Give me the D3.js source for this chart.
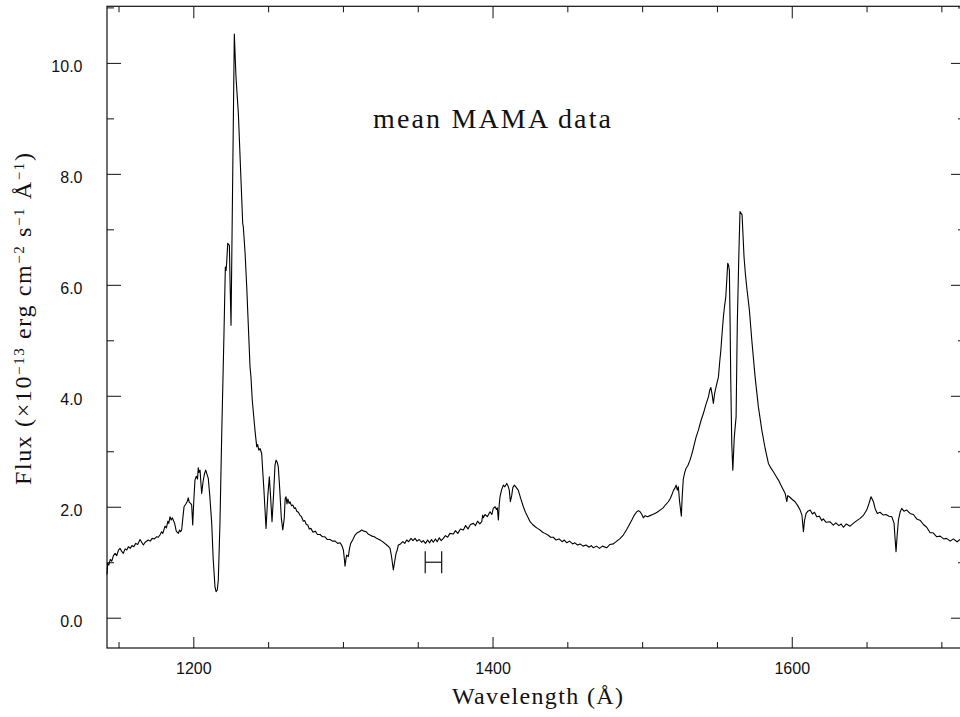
<!DOCTYPE html>
<html>
<head>
<meta charset="utf-8">
<script src="https://cdn.jsdelivr.net/npm/d3@7"></script>
<style>
  html, body { margin: 0; padding: 0; background: #fff; }
  svg { display: block; overflow: hidden; }
</style>
</head>
<body>
<svg id="chart" width="960" height="717"></svg>
<script>
// ---- data ----
const wavelength = [
1142.3,1142.8,1143.5,1144.5,1145.5,1146.6,1147.7,1148.8,1150.0,1151.0,1152.0,1153.2,1154.4,1155.5,1156.6,1157.8,1159.0,1160.2,1161.5,1162.8,
1164.4,1165.5,1166.6,1167.8,1169.9,1171.2,1172.5,1174.0,1175.5,1176.6,1177.7,1178.8,1179.6,1181.1,1182.0,1183.0,1183.6,1184.4,1185.2,1186.0,
1186.6,1187.5,1188.6,1190.0,1190.8,1191.5,1192.2,1193.0,1193.8,1195.0,1196.0,1196.6,1197.3,1198.2,1198.9,1199.6,1200.3,1201.1,1202.0,1202.8,
1203.3,1203.8,1204.5,1205.0,1205.6,1206.5,1207.5,1208.3,1209.2,1210.0,1211.0,1212.3,1213.3,1214.5,1215.2,1216.0,1216.7,1217.8,1219.0,1220.5,
1221.4,1221.9,1222.3,1223.0,1224.1,1224.6,1225.2,1227.4,1228.5,1230.1,1232.4,1233.0,1233.4,1234.6,1235.7,1236.8,1237.9,1238.5,1239.4,1240.6,
1241.5,1242.4,1243.0,1243.8,1244.6,1245.7,1246.5,1247.2,1248.6,1249.8,1250.8,1251.6,1252.6,1253.6,1254.6,1255.3,1256.1,1256.8,1257.8,1258.8,
1259.8,1260.8,1261.4,1262.0,1262.6,1263.2,1264.0,1264.6,1265.6,1266.5,1267.5,1268.3,1269.1,1270.2,1271.2,1272.3,1273.5,1274.5,1275.5,1276.5,
1277.5,1278.6,1280.0,1281.5,1283.0,1284.7,1286.2,1287.8,1289.5,1291.4,1293.0,1294.8,1296.5,1298.1,1299.3,1300.3,1301.0,1301.4,1302.0,1302.5,
1303.6,1304.4,1305.2,1306.5,1308.1,1309.5,1311.0,1312.6,1314.0,1315.5,1316.8,1318.1,1319.5,1321.0,1322.5,1324.8,1326.0,1327.5,1329.3,1330.5,
1331.5,1332.5,1333.7,1334.5,1335.5,1336.3,1337.0,1338.5,1340.0,1341.3,1342.6,1344.0,1345.5,1346.8,1348.2,1349.5,1351.0,1352.5,1353.7,1355.2,
1356.6,1358.0,1359.2,1360.4,1361.8,1363.0,1364.4,1365.7,1367.1,1368.5,1370.0,1371.5,1373.8,1375.2,1376.8,1378.5,1380.5,1382.0,1383.6,1385.2,
1387.2,1388.6,1390.0,1391.5,1392.8,1393.4,1393.9,1395.0,1396.5,1398.3,1399.5,1400.5,1401.7,1402.6,1403.2,1403.9,1404.5,1405.0,1406.0,1407.2,
1408.2,1409.5,1410.3,1411.2,1411.9,1412.8,1413.6,1414.6,1415.8,1417.2,1418.8,1420.6,1422.0,1423.5,1425.1,1426.8,1428.5,1430.0,1431.8,1433.5,
1435.0,1437.0,1438.8,1440.6,1442.5,1444.5,1446.5,1448.0,1449.6,1451.5,1453.5,1455.0,1456.8,1458.5,1460.5,1462.5,1464.5,1466.0,1467.4,1469.5,
1471.5,1473.5,1476.3,1478.5,1480.8,1483.0,1485.0,1487.4,1489.5,1491.5,1493.1,1494.8,1496.4,1497.5,1498.6,1499.8,1500.8,1502.0,1503.5,1505.3,
1507.0,1508.5,1510.0,1512.0,1514.0,1515.8,1517.5,1518.8,1519.8,1521.0,1522.0,1522.7,1523.5,1524.2,1525.0,1526.2,1526.8,1527.5,1528.5,1529.3,
1530.5,1532.0,1533.2,1534.2,1536.0,1537.6,1539.3,1540.9,1542.6,1544.3,1545.2,1545.9,1546.8,1547.6,1548.5,1549.4,1550.2,1551.0,1551.8,1552.6,
1553.5,1554.3,1555.1,1555.9,1556.6,1557.2,1557.8,1558.3,1558.8,1559.2,1559.9,1560.6,1561.6,1562.8,1563.6,1564.6,1565.4,1566.8,1568.1,1569.0,
1569.9,1571.7,1573.3,1575.5,1577.7,1580.0,1582.2,1584.4,1586.0,1587.7,1589.5,1591.1,1593.3,1595.6,1596.7,1597.3,1598.4,1600.0,1602.2,1604.0,
1605.6,1606.8,1607.8,1608.5,1609.6,1610.8,1612.3,1613.8,1615.2,1616.7,1618.5,1620.0,1621.1,1623.0,1625.5,1627.8,1629.5,1631.5,1633.0,1634.5,
1636.5,1639.0,1641.5,1643.5,1645.7,1648.0,1650.1,1651.5,1653.0,1654.6,1655.8,1657.2,1659.0,1661.2,1663.0,1665.0,1666.9,1668.4,1669.0,1669.7,
1670.5,1671.3,1672.4,1673.5,1675.0,1676.9,1679.0,1681.3,1683.5,1686.0,1688.0,1690.2,1692.5,1694.5,1696.8,1699.2,1701.5,1703.5,1705.9,1708.0,
1710.5,1712.6,1715.8
];
const flux = [
0.78,0.98,0.95,1.05,1.02,1.12,1.16,1.12,1.22,1.25,1.20,1.16,1.24,1.22,1.28,1.25,1.30,1.28,1.34,1.32,
1.41,1.36,1.31,1.36,1.40,1.38,1.43,1.42,1.46,1.45,1.49,1.55,1.52,1.65,1.62,1.74,1.70,1.82,1.76,1.80,
1.76,1.70,1.56,1.52,1.58,1.55,1.58,1.80,2.00,2.05,2.10,2.16,2.08,2.06,2.03,1.67,2.10,2.48,2.55,2.50,
2.70,2.62,2.66,2.45,2.24,2.45,2.60,2.66,2.58,2.51,2.20,1.70,1.05,0.55,0.47,0.50,0.68,1.70,3.33,5.13,
6.32,6.26,6.40,6.75,6.71,6.00,5.27,10.52,9.75,9.09,7.52,7.11,7.05,6.57,5.96,5.24,4.52,4.35,3.92,3.56,
3.30,3.08,3.12,3.02,3.05,2.96,2.60,2.30,1.61,2.20,2.54,2.20,1.73,2.20,2.75,2.84,2.80,2.72,2.30,1.80,
1.58,1.80,2.15,2.18,2.05,2.14,2.06,2.09,2.02,2.03,1.97,1.98,1.92,1.90,1.85,1.82,1.74,1.75,1.68,1.67,
1.60,1.61,1.54,1.56,1.50,1.50,1.46,1.46,1.41,1.41,1.38,1.38,1.34,1.35,1.30,1.22,1.05,0.93,1.05,1.13,
1.10,1.25,1.34,1.40,1.49,1.53,1.55,1.58,1.56,1.55,1.51,1.49,1.47,1.46,1.43,1.40,1.38,1.35,1.31,1.28,
1.25,1.10,0.86,1.00,1.16,1.22,1.31,1.33,1.37,1.34,1.40,1.37,1.43,1.39,1.43,1.38,1.41,1.36,1.39,1.34,
1.40,1.35,1.41,1.36,1.42,1.37,1.44,1.39,1.43,1.48,1.45,1.52,1.51,1.57,1.52,1.60,1.58,1.66,1.60,1.68,
1.70,1.66,1.74,1.69,1.73,1.85,1.80,1.86,1.82,1.91,1.86,1.97,2.00,1.95,1.98,1.76,2.05,2.18,2.30,2.39,
2.36,2.42,2.38,2.30,2.09,2.20,2.35,2.39,2.35,2.30,2.15,2.00,1.90,1.82,1.73,1.68,1.64,1.61,1.58,1.54,
1.52,1.49,1.45,1.45,1.40,1.42,1.37,1.40,1.35,1.38,1.33,1.35,1.31,1.33,1.29,1.31,1.27,1.30,1.26,1.29,
1.25,1.29,1.26,1.32,1.33,1.38,1.42,1.49,1.58,1.68,1.76,1.85,1.91,1.93,1.91,1.86,1.80,1.84,1.82,1.84,
1.86,1.88,1.90,1.94,1.98,2.04,2.09,2.15,2.21,2.30,2.34,2.39,2.30,2.36,2.10,1.83,2.20,2.50,2.62,2.69,
2.74,2.84,2.95,3.05,3.25,3.38,3.55,3.68,3.84,3.98,4.10,4.15,4.02,3.86,4.05,4.16,4.25,4.34,4.60,4.82,
5.15,5.42,5.62,5.78,6.10,6.39,6.35,6.26,5.30,4.34,3.14,2.66,3.26,3.62,5.30,6.50,7.32,7.26,6.50,6.20,
5.96,5.54,5.00,4.34,3.80,3.38,3.05,2.78,2.70,2.63,2.55,2.48,2.36,2.24,2.09,2.20,2.18,2.14,2.09,2.02,
1.94,1.85,1.55,1.75,1.88,1.92,1.94,1.87,1.90,1.82,1.83,1.75,1.78,1.72,1.73,1.67,1.71,1.66,1.69,1.63,
1.69,1.65,1.71,1.75,1.79,1.85,1.94,2.05,2.18,2.09,1.96,1.88,1.90,1.85,1.86,1.83,1.82,1.70,1.45,1.19,
1.50,1.76,1.90,1.97,1.92,1.94,1.88,1.86,1.78,1.75,1.68,1.63,1.53,1.53,1.46,1.47,1.42,1.43,1.38,1.42,
1.37,1.41,1.39
];
const xMajorTicks = [1200, 1400, 1600];
const xMinorTicks = [1150, 1250, 1300, 1350, 1450, 1500, 1550, 1650, 1700];
const yMajorTicks = [0, 2, 4, 6, 8, 10];
const yMinorTicks = [1, 3, 5, 7, 9, 11];
const markerRange = [1355, 1366];   // "H" marker
const markerLevel = 1.0;
const markerCap = 0.2;
const titleText = "mean MAMA data";
const xTitle = "Wavelength (Å)";

// ---- layout ----
const svg = d3.select("#chart");
const L = 107, R = 965, T = 6.3, B = 648;
const x = d3.scaleLinear().domain([1142.3, 1715.8]).range([L, R]);
const y = d3.scaleLinear().domain([-0.546, 11.02]).range([B, T]);

const ink = "#111";
const g = svg.append("g");

function strip(sel) { sel.select(".domain").remove(); sel.selectAll("line").attr("stroke", ink); }

// bottom
g.append("g").attr("transform", `translate(0,${B})`)
  .call(d3.axisBottom(x).tickValues(xMajorTicks).tickSize(-11).tickPadding(15).tickFormat(d3.format("d")))
  .call(strip)
  .call(s => s.selectAll("text").attr("font-family", "'Liberation Sans', Arial, sans-serif").attr("font-size", 16).attr("fill", ink));
g.append("g").attr("transform", `translate(0,${B})`)
  .call(d3.axisBottom(x).tickValues(xMinorTicks).tickSize(-6).tickFormat(""))
  .call(strip);
// top
g.append("g").attr("transform", `translate(0,${T})`)
  .call(d3.axisTop(x).tickValues(xMajorTicks).tickSize(-12).tickFormat(""))
  .call(strip);
g.append("g").attr("transform", `translate(0,${T})`)
  .call(d3.axisTop(x).tickValues(xMinorTicks).tickSize(-6).tickFormat(""))
  .call(strip);
// left
g.append("g").attr("transform", `translate(${L},0)`)
  .call(d3.axisLeft(y).tickValues(yMajorTicks).tickSize(-14).tickPadding(24.5).tickFormat(d3.format(".1f")))
  .call(strip)
  .call(s => s.selectAll("text").attr("font-family", "'Liberation Sans', Arial, sans-serif").attr("font-size", 16).attr("fill", ink).attr("dy", 9));
g.append("g").attr("transform", `translate(${L},0)`)
  .call(d3.axisLeft(y).tickValues(yMinorTicks).tickSize(-7).tickFormat(""))
  .call(strip);
// right
g.append("g").attr("transform", `translate(${R},0)`)
  .call(d3.axisRight(y).tickValues(yMajorTicks).tickSize(-14).tickFormat(""))
  .call(strip);
g.append("g").attr("transform", `translate(${R},0)`)
  .call(d3.axisRight(y).tickValues(yMinorTicks).tickSize(-7).tickFormat(""))
  .call(strip);

// frame
g.append("rect").attr("x", L).attr("y", T).attr("width", R - L).attr("height", B - T)
  .attr("fill", "none").attr("stroke", ink).attr("stroke-width", 1.2);

// spectrum
const pts = wavelength.map((w, i) => [w, flux[i]]);
g.append("path").datum(pts)
  .attr("fill", "none").attr("stroke", "#000").attr("stroke-width", 1.1).attr("stroke-linejoin", "round")
  .attr("d", d3.line().x(d => x(d[0])).y(d => y(d[1])));

// H marker
const hm = g.append("g").attr("stroke", ink).attr("stroke-width", 1.2).attr("fill", "none");
hm.append("line").attr("x1", x(markerRange[0])).attr("x2", x(markerRange[1])).attr("y1", y(markerLevel)).attr("y2", y(markerLevel));
markerRange.forEach(w => hm.append("line").attr("x1", x(w)).attr("x2", x(w))
  .attr("y1", y(markerLevel - markerCap)).attr("y2", y(markerLevel + markerCap)));

// texts
const serif = "'Liberation Serif', 'DejaVu Serif', serif";
svg.append("text").attr("x", 373).attr("y", 128).attr("font-family", serif).attr("font-size", 28)
  .attr("textLength", 238).attr("lengthAdjust", "spacing").attr("fill", ink).text(titleText);

svg.append("text").attr("x", 452).attr("y", 704).attr("font-family", serif).attr("font-size", 24)
  .attr("textLength", 171).attr("lengthAdjust", "spacing").attr("fill", ink).text(xTitle);

// y title (rotated)
const yt = svg.append("text").attr("transform", "translate(31,485) rotate(-90)")
  .attr("font-family", serif).attr("font-size", 24).attr("fill", ink)
  .attr("textLength", 332).attr("lengthAdjust", "spacing");
const parts = [["Flux (×10", false], ["−13", true], [" erg cm", false], ["−2", true], [" s", false], ["−1", true], [" Å", false], ["−1", true], [")", false]];
parts.forEach(([t, sup]) => {
  const ts = yt.append("tspan").text(t);
  if (sup) ts.attr("font-size", 15).attr("baseline-shift", "45%");
});
</script>
</body>
</html>
